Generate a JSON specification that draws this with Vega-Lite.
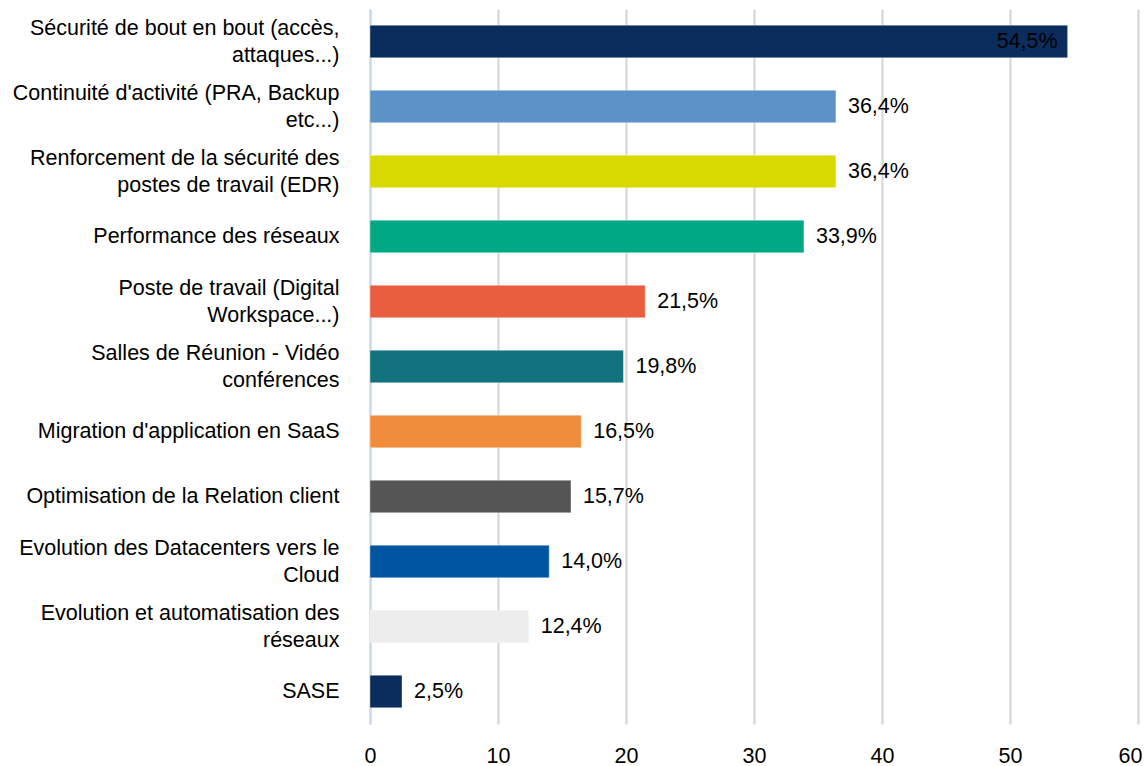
{
  "$schema": "https://vega.github.io/schema/vega-lite/v6.json",
  "autosize": "none",
  "width": 768,
  "height": 715,
  "padding": {"left": 370, "top": 9, "right": 6, "bottom": 42},
  "background": "white",
  "config": {
    "view": {"stroke": null},
    "font": "Liberation Sans",
    "text": {"font": "Liberation Sans"}
  },
  "data": {
    "values": [
      {"cat": "Sécurité de bout en bout (accès,|attaques...)", "value": 54.5, "pct": "54,5%"},
      {"cat": "Continuité d'activité (PRA, Backup|etc...)", "value": 36.4, "pct": "36,4%"},
      {"cat": "Renforcement de la sécurité des|postes de travail (EDR)", "value": 36.4, "pct": "36,4%"},
      {"cat": "Performance des réseaux", "value": 33.9, "pct": "33,9%"},
      {"cat": "Poste de travail (Digital|Workspace...)", "value": 21.5, "pct": "21,5%"},
      {"cat": "Salles de Réunion - Vidéo|conférences", "value": 19.8, "pct": "19,8%"},
      {"cat": "Migration d'application en SaaS", "value": 16.5, "pct": "16,5%"},
      {"cat": "Optimisation de la Relation client", "value": 15.7, "pct": "15,7%"},
      {"cat": "Evolution des Datacenters vers le|Cloud", "value": 14.0, "pct": "14,0%"},
      {"cat": "Evolution et automatisation des|réseaux", "value": 12.4, "pct": "12,4%"},
      {"cat": "SASE", "value": 2.5, "pct": "2,5%"}
    ]
  },
  "encoding": {
    "y": {
      "field": "cat",
      "type": "nominal",
      "sort": null,
      "scale": {"paddingInner": 0.5, "paddingOuter": 0.25},
      "axis": {
        "title": null,
        "labelExpr": "split(datum.label, '|')",
        "labelFontSize": 21.5,
        "labelLineHeight": 27,
        "labelOffset": {"condition": {"test": "indexof(datum.label, '|') >= 0", "value": -13}, "value": 0},
        "labelColor": "#000000",
        "labelPadding": 31,
        "labelLimit": 400,
        "ticks": false,
        "domain": true,
        "domainColor": "#c9d7ef",
        "domainWidth": 2,
        "grid": false
      }
    },
    "x": {
      "field": "value",
      "type": "quantitative",
      "scale": {"domain": [0, 60], "nice": false},
      "axis": {
        "title": null,
        "values": [0, 10, 20, 30, 40, 50, 60],
        "labelFontSize": 21.5,
        "labelColor": "#000000",
        "labelPadding": 21,
        "labelAlign": {"condition": {"test": "datum.value == 60", "value": "right"}, "value": "center"},
        "labelOffset": {"condition": {"test": "datum.value == 60", "value": 4}, "value": 0},
        "ticks": false,
        "domain": false,
        "grid": true,
        "gridColor": "#d4d4d4",
        "gridWidth": 2,
        "labelFlush": false
      }
    }
  },
  "layer": [
    {
      "mark": {"type": "bar", "stroke": "#ffffff", "strokeOpacity": 0.35, "strokeWidth": 1},
      "encoding": {
        "color": {
          "field": "cat",
          "type": "nominal",
          "legend": null,
          "scale": {
            "domain": [
              "Sécurité de bout en bout (accès,|attaques...)",
              "Continuité d'activité (PRA, Backup|etc...)",
              "Renforcement de la sécurité des|postes de travail (EDR)",
              "Performance des réseaux",
              "Poste de travail (Digital|Workspace...)",
              "Salles de Réunion - Vidéo|conférences",
              "Migration d'application en SaaS",
              "Optimisation de la Relation client",
              "Evolution des Datacenters vers le|Cloud",
              "Evolution et automatisation des|réseaux",
              "SASE"
            ],
            "range": ["#0a2d5e", "#5b93c9", "#d8d900", "#00a886", "#e95e3f", "#11737e", "#f08d3c", "#555555", "#0055a0", "#ededed", "#0a2d5e"]
          }
        }
      }
    },
    {
      "transform": [{"filter": "datum.value <= 50"}],
      "mark": {"type": "text", "align": "left", "baseline": "middle", "dx": 12, "fontSize": 21.5, "color": "#000000"},
      "encoding": {"text": {"field": "pct"}}
    },
    {
      "transform": [{"filter": "datum.value > 50"}],
      "mark": {"type": "text", "align": "right", "baseline": "middle", "dx": -10, "fontSize": 21.5, "color": "#000000"},
      "encoding": {"text": {"field": "pct"}}
    }
  ]
}
